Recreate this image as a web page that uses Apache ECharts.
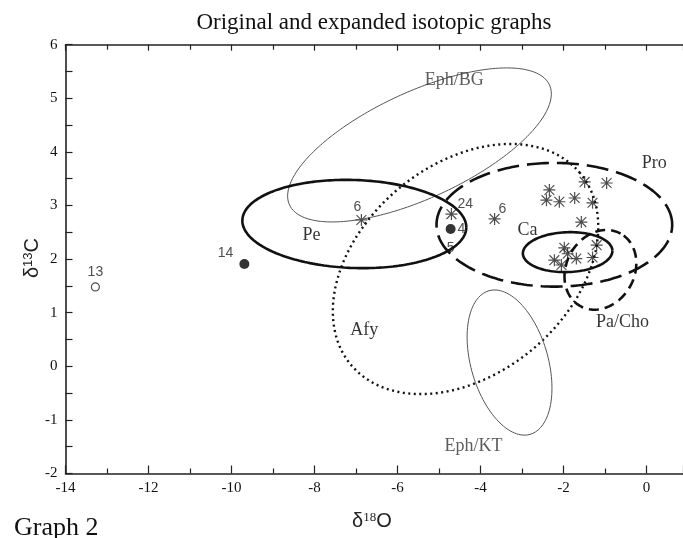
<!DOCTYPE html>
<html><head><meta charset="utf-8">
<script src="https://cdn.jsdelivr.net/npm/echarts@6/dist/echarts.min.js"></script>
<style>html,body{margin:0;padding:0;background:#fff;overflow:hidden}#c{width:683px;height:538px}</style>
</head><body><div id="c"></div>
<script>
// ---- data ----
const xMin = -14, xMax = 0.88, yMin = -2, yMax = 6;
// confidence ellipses: centre (δ18O, δ13C), semi-axes (in δ18O units), rotation in degrees
const regionNames = ['Eph/BG', 'Pe', 'Afy', 'Eph/KT', 'Pro', 'Ca', 'Pa/Cho'];
const regionCx    = [-5.47, -7.04, -4.36, -3.30, -2.22, -1.90, -1.11];
const regionCy    = [4.13, 2.655, 1.815, 0.07, 2.64, 2.13, 1.80];
const regionA     = [3.45, 2.70, 3.60, 1.80, 2.84, 1.08, 1.00];
const regionB     = [1.28, 1.06, 2.52, 0.93, 1.49, 0.48, 0.82];
const regionRot   = [24.8, -2, 40, 106, 0, 2, 61];
// region name positions
const regionLabelX = [-4.63, -8.07, -6.80, -4.17, 0.19, -2.87, -0.58];
const regionLabelY = [5.34, 2.45, 0.68, -1.50, 3.79, 2.54, 0.83];
// unlabeled samples (asterisks)
const starX = [-1.49, -0.96, -2.34, -2.41, -2.10, -1.73, -1.30, -1.57, -1.98, -2.22, -2.05, -1.90, -1.69, -1.20, -1.30];
const starY = [3.44, 3.42, 3.29, 3.10, 3.07, 3.14, 3.05, 2.69, 2.21, 1.98, 1.89, 2.10, 2.01, 2.26, 2.03];
// labelled samples
const ptX    = [-13.28, -9.69, -4.72, -4.72, -4.70, -6.87, -3.66];
const ptY    = [1.48, 1.91, 2.56, 2.56, 2.84, 2.73, 2.75];
const ptText = ['13', '14', '4', '5', '24', '6', '6'];
const ptMark = ['ring', 'dot', 'dot', 'none', 'star', 'star', 'star'];

// ---- layout / style ----
const G = {left: 65.5, right: 0, top: 44.7, bottom: 64.5};
const W = 683, H = 538;
const pxPerX = (W - G.left - G.right) / (xMax - xMin);
const pxPerY = (H - G.top - G.bottom) / (yMax - yMin);
const k = pxPerX / pxPerY;

const regionStyles = {
  'Eph/BG': {color: '#555', width: 1, type: 'solid'},
  'Eph/KT': {color: '#555', width: 1, type: 'solid'},
  'Pe': {color: '#111', width: 2.6, type: 'solid'},
  'Ca': {color: '#111', width: 2.6, type: 'solid'},
  'Afy': {color: '#111', width: 2.4, type: [2, 3.5]},
  'Pro': {color: '#111', width: 2.6, type: [22, 8]},
  'Pa/Cho': {color: '#111', width: 2.6, type: [10, 6]}
};

function ellipse(i) {
  const pts = [], N = 240, th = regionRot[i] * Math.PI / 180;
  for (let j = 0; j <= N; j++) {
    const t = 2 * Math.PI * j / N;
    const u = regionA[i] * Math.cos(t), v = regionB[i] * Math.sin(t);
    const rx = u * Math.cos(th) - v * Math.sin(th);
    const ry = u * Math.sin(th) + v * Math.cos(th);
    pts.push([regionCx[i] + rx, regionCy[i] + ry * k]);
  }
  return pts;
}

const STAR = 'path://M0,5.4L12,5.4L12,6.6L0,6.6Z M5.4,0L6.6,0L6.6,12L5.4,12Z M1.5,0.7L11.3,10.5L10.5,11.3L0.7,1.5Z M10.5,0.7L11.3,1.5L1.5,11.3L0.7,10.5Z';
const CLEAR = 'rgba(0,0,0,0)';

const series = [];
regionNames.forEach((n, i) => {
  const s = regionStyles[n];
  series.push({
    type: 'line', name: n, data: ellipse(i), showSymbol: false, symbol: 'none',
    smooth: false, silent: true, animation: false,
    lineStyle: {color: s.color, width: s.width, type: s.type, cap: 'butt'}
  });
});
series.push({
  type: 'scatter', name: 'samples', animation: false, symbol: STAR, symbolSize: 12,
  itemStyle: {color: '#222'},
  data: starX.map((x, i) => [x, starY[i]])
});
const labelPos = {
  '13': {position: 'top', distance: 3},
  '14': {position: 'left', distance: 6, offset: [0, -11]},
  '4': {position: 'right', distance: 2},
  '5': {position: 'bottom', distance: 7},
  '24': {position: 'right', distance: 0, offset: [0, -10]},
  '6': {position: 'top', distance: 0, offset: [-4, 0]}
};
series.push({
  type: 'scatter', name: 'labelled', animation: false,
  data: ptX.map((x, i) => {
    const m = ptMark[i];
    const d = {value: [x, ptY[i]]};
    if (m === 'ring') { d.symbol = 'circle'; d.symbolSize = 8; d.itemStyle = {color: '#fff', borderColor: '#222', borderWidth: 1.2}; }
    else if (m === 'dot') { d.symbol = 'circle'; d.symbolSize = 10; d.itemStyle = {color: '#000'}; }
    else if (m === 'star') { d.symbol = STAR; d.symbolSize = 12; d.itemStyle = {color: '#222'}; }
    else { d.symbol = 'circle'; d.symbolSize = 10; d.itemStyle = {color: CLEAR}; }
    let lp = Object.assign({}, labelPos[ptText[i]] || {position: 'right'});
    if (ptText[i] === '6' && i === 6) lp = {position: 'right', distance: -2, offset: [0, -10]};
    d.label = Object.assign({show: true, formatter: ptText[i], color: '#222',
      fontFamily: 'Liberation Sans, Arial, sans-serif', fontSize: 14}, lp);
    return d;
  })
});
series.push({
  type: 'scatter', name: 'regionLabels', animation: false, symbol: 'circle', symbolSize: 2,
  itemStyle: {color: CLEAR},
  z: 5,
  data: regionNames.map((n, i) => ({
    value: [regionLabelX[i], regionLabelY[i]],
    label: {show: true, position: 'inside', formatter: n,
      color: (n.indexOf('Eph') === 0) ? '#333' : '#000',
      fontFamily: 'Liberation Serif, Times New Roman, serif', fontSize: 18}
  }))
});

const axisLineStyle = {color: '#222', width: 1.6};
const chart = echarts.init(document.getElementById('c'), null, {renderer: 'canvas'});
chart.setOption({
  backgroundColor: '#fff',
  animation: false,
  title: {text: 'Original and expanded isotopic graphs', left: 369, top: 6, textAlign: 'center',
    textStyle: {fontFamily: 'Liberation Serif, Times New Roman, serif', fontWeight: 'normal', fontSize: 23, color: '#111'}},
  grid: G,
  xAxis: [{
    type: 'value', min: xMin, max: xMax, interval: 2, position: 'bottom',
    axisLine: {show: true, onZero: false, lineStyle: axisLineStyle},
    axisTick: {show: true, inside: true, length: 8, lineStyle: {color: '#222', width: 1.2}},
    minorTick: {show: true, splitNumber: 2, length: 5, lineStyle: {color: '#222', width: 1.2}},
    splitLine: {show: false},
    axisLabel: {margin: 7, showMaxLabel: false, color: '#111', fontFamily: 'Liberation Serif, Times New Roman, serif', fontSize: 15,
      formatter: v => (Math.abs(v % 2) < 1e-6 ? String(v) : '')}
  }, {
    type: 'value', min: xMin, max: xMax, interval: 2, position: 'top',
    axisLine: {show: true, onZero: false, lineStyle: axisLineStyle},
    axisTick: {show: true, inside: true, length: 6, lineStyle: {color: '#222', width: 1.2}},
    minorTick: {show: true, splitNumber: 2, length: 5, lineStyle: {color: '#222', width: 1.2}},
    splitLine: {show: false}, axisLabel: {show: false}
  }],
  yAxis: [{
    type: 'value', min: yMin, max: yMax, interval: 1, position: 'left',
    axisLine: {show: true, onZero: false, lineStyle: axisLineStyle},
    axisTick: {show: true, inside: true, length: 7, lineStyle: {color: '#222', width: 1.2}},
    minorTick: {show: true, splitNumber: 2, length: 7, lineStyle: {color: '#222', width: 1.2}},
    splitLine: {show: false},
    axisLabel: {margin: 8, color: '#111', fontFamily: 'Liberation Serif, Times New Roman, serif', fontSize: 15}
  }],
  graphic: [
    {type: 'text', left: 22, top: 238, rotation: Math.PI / 2, style: {
      text: 'δ{s|13}C', rich: {s: {fontSize: 13, verticalAlign: 'top', fontFamily: 'Liberation Sans, Arial, sans-serif', padding: [0, 0, 8, 0]}},
      fontSize: 20, fontFamily: 'Liberation Sans, Arial, sans-serif', fill: '#222'}},
    {type: 'text', left: 352, top: 511, style: {
      text: 'δ{s|18}O', rich: {s: {fontSize: 13, fontFamily: 'Liberation Serif, serif', padding: [0, 0, 8, 0]}},
      fontSize: 20, fontFamily: 'Liberation Sans, Arial, sans-serif', fill: '#222'}},
    {type: 'text', left: 14, top: 515, style: {text: 'Graph 2', fontSize: 26,
      fontFamily: 'Liberation Serif, Times New Roman, serif', fill: '#111'}}
  ],
  series: series
});
</script></body></html>
